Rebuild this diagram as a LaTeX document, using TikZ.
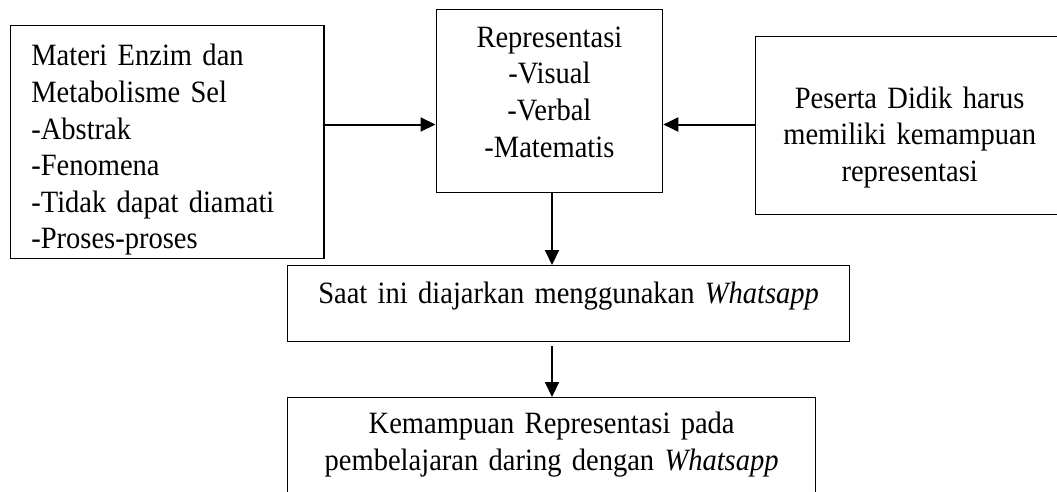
\documentclass[tikz,border=0pt]{standalone}
\usepackage{fontspec}
\setmainfont{Liberation Serif}[FakeStretch=0.92]
\usetikzlibrary{arrows.meta}
\tikzset{
  boxnode/.style={draw, line width=1.3pt, inner xsep=0pt, inner ysep=0pt, anchor=north west,
    font=\fontsize{31}{36.6}\selectfont},
  arr/.style={line width=2pt, -{Triangle[length=15pt,width=14pt]}}
}
\begin{document}
\begin{tikzpicture}[x=1pt,y=-1pt]
\useasboundingbox (0,0) rectangle (1057,491);
\clip (0,0) rectangle (1057,491);
\fill[white] (0,0) rectangle (1057,491);

\node[boxnode, inner xsep=20.7pt, text width=272pt, align=left,
      text height=40.3pt, text depth=192.7pt] (mat) at (10,25)
  {Materi Enzim dan\\Metabolisme Sel\\-Abstrak\\-Fenomena\\-Tidak dapat diamati\\-Proses-proses};

\node[boxnode, text width=226.5pt, align=center,
      text height=37.7pt, text depth=145.3pt] (rep) at (435.5,9)
  {Representasi\\-Visual\\-Verbal\\-Matematis};

\node[boxnode, text width=308pt, align=center,
      text height=71.7pt, text depth=106.3pt] (pes) at (755,36)
  {Peserta Didik harus\\memiliki kemampuan\\representasi};

\node[boxnode, text width=562pt, align=center,
      text height=38.3pt, text depth=37.7pt] (saat) at (287,265)
  {Saat ini diajarkan menggunakan \textit{Whatsapp}};

\node[boxnode, text width=528pt, align=center,
      text height=36pt, text depth=67pt] (kem) at (287,397)
  {Kemampuan Representasi pada\\pembelajaran daring dengan \textit{Whatsapp}};

\coordinate (hy) at (0,124.5);
\coordinate (vx) at (552,0);

\draw[arr] (mat.east |- hy) -- (rep.west |- hy);
\draw[arr] (pes.west |- hy) -- (rep.east |- hy);
\draw[arr] (rep.south -| vx) -- (saat.north -| vx);
\draw[arr] ([yshift=-4pt]saat.south -| vx) -- (kem.north -| vx);
\end{tikzpicture}
\end{document}
